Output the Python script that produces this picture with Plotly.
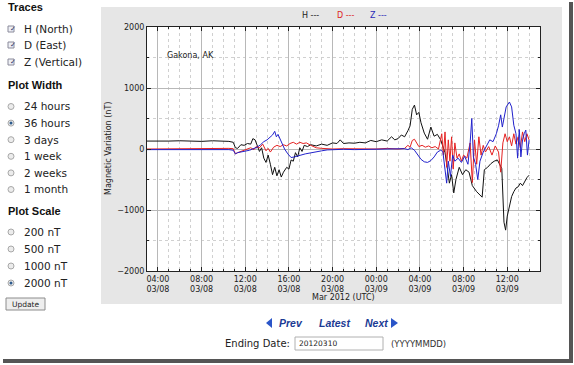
import plotly.graph_objects as go
import pandas as pd

# ---------------- data (hours since 2012-03-08 00:00 UTC, nT) ----------------
h_hours = [3, 4, 5, 6, 7, 8, 9, 10, 10.5, 10.9, 11.1, 11.3, 11.6, 11.9, 12.2, 12.5, 12.7, 12.9,
           13.1, 13.3, 13.5, 13.7, 13.9, 14.1, 14.3, 14.5, 14.7, 14.9, 15.1, 15.3, 15.5, 15.8,
           16.0, 16.2, 16.4, 16.6, 16.8, 17.0, 17.2, 17.4, 17.7, 18.0, 18.5, 19, 19.5, 20, 20.4,
           20.7, 21, 21.5, 22, 22.5, 23, 23.5, 24, 24.5, 25, 25.4, 25.7, 26, 26.3, 26.6, 26.9,
           27.1, 27.3, 27.5, 27.7, 27.9, 28.1, 28.4, 28.7, 29.0, 29.3, 29.6, 29.9, 30.1, 30.3,
           30.5, 30.7, 30.9, 31.1, 31.3, 31.6, 31.9, 32.2, 32.5, 32.8, 33.2, 33.7, 33.9, 34.2,
           34.5, 34.8, 35.1, 35.3, 35.5, 35.7, 35.85, 36.0, 36.2, 36.4, 36.6, 36.8, 37.0, 37.2,
           37.4, 37.6, 37.8, 38.0]
h_vals = [130, 125, 130, 135, 130, 125, 135, 130, 125, 110, 20, 10, 70, 60, 90, 80, 170, 150,
          60, -40, 20, -150, -220, -100, -250, -420, -300, -440, -340, -460, -380, -300,
          -330, -180, -200, -60, -130, 20, -40, 60, 40, 70, 50, 80, 60, 100, 90,
          150, 90, 100, 95, 110, 100, 140, 120, 150, 130, 200, 150, 170, 230, 200, 300,
          380, 650, 720, 560, 600, 430, 260, 160, 360, 210, 240, 150, 60, -60,
          -300, -560, -420, -720, -500, -300, -420, -340, -380, -600, -700, -790, -340, -300,
          -240, -200, -180, -260, -320, -1200, -1330, -1100, -950, -780, -700, -640, -620, -560,
          -600, -520, -470, -430]

d_hours = [3, 5, 7, 9, 10.5, 10.9, 11.1, 11.3, 11.6, 11.9, 12.2, 12.5, 12.8, 13.0, 13.3, 13.6,
           13.9, 14.1, 14.3, 14.6, 14.9, 15.2, 15.5, 15.8, 16.1, 16.4, 16.7, 17.0, 17.3, 17.6,
           18.0, 18.5, 19, 19.5, 20, 21, 22, 23, 24, 25, 26, 26.6, 26.9, 27.1, 27.3, 27.5, 27.7,
           27.9, 28.2, 28.5, 28.8, 29.1, 29.4, 29.7, 30.0, 30.15, 30.3, 30.45, 30.6, 30.75,
           30.9, 31.05, 31.2, 31.4, 31.6, 31.8, 32.0, 32.3, 32.6, 32.8, 33.0, 33.2, 33.4, 33.6,
           33.8, 34.0, 34.3, 34.6, 34.9, 35.2, 35.4, 35.6, 35.8, 36.0, 36.2, 36.4, 36.6, 36.8,
           37.0, 37.2, 37.4, 37.6, 37.8, 38.0]
d_vals = [0, 5, 10, 5, 10, 5, -80, -60, -40, -20, 0, 20, -10, 40, 20, 80,
          -30, 10, -50, 30, 60, 40, 70, 50, 90, 110, 80, 110, 90, 100,
          60, 20, 10, 5, 0, 5, 0, 5, 0, 10, 0, 10, 60, 30, 140, 160, 100,
          40, 60, 30, 50, 20, 40, 0, 250, -100, 280, -300, 150, -200,
          200, -330, 100, -150, -80, -200, -100, -150, 100, -550, 150, -250, 200, -100,
          60, -50, 40, -100, 50, -50, -380, 100, 250, 120, 200, 50, 250, 80,
          200, 20, 280, 120, 250, 150]

z_hours = [3, 5, 7, 9, 10.5, 10.9, 11.1, 11.3, 11.6, 12.0, 12.4, 12.8, 13.1, 13.4, 13.7, 14.0,
           14.3, 14.5, 14.7, 14.85, 15.0, 15.3, 15.6, 15.9, 16.2, 16.5, 16.8, 17.1, 17.5, 18.0,
           18.5, 19, 19.5, 20, 21, 22, 23, 24, 25, 26, 26.6, 26.9, 27.2, 27.5, 27.8, 28.1,
           28.4, 28.7, 29.0, 29.3, 29.6, 29.9, 30.1, 30.3, 30.45, 30.6, 30.8, 31.0, 31.2, 31.5,
           31.8, 32.1, 32.4, 32.6, 32.75, 32.9, 33.1, 33.3, 33.5, 33.8, 34.1, 34.4, 34.7, 35.0,
           35.2, 35.4, 35.55, 35.9, 36.2, 36.4, 36.6, 36.8, 36.95, 37.1, 37.25, 37.4, 37.55,
           37.7, 37.85, 38.0]
z_vals = [-10, -10, -5, -5, -10, -20, -80, -60, -50, -40, -20, 10, 30, 70, 120, 150,
          200, 230, 290, 200, 240, 120, 0, -80, -140, -130, -110, -100, -80, -60,
          -40, -30, -15, -10, -5, -10, -5, 0, -5, 0, 5, -10, 20, -20, -100, -170,
          -210, -220, -190, -130, -50, -20, -40, -300, -560, -200, -450, -100, -200, -150,
          -220, -120, -250, 100, 500, -130, -250, -500, -200, -50, 50, 150, 120, 250,
          380, 560, 360, 690, 770, 690, 390, 250, -150, 320, -130, 150, 250,
          310, -100, 150]

y_tickvals = [-2000, -1000, 0, 1000, 2000]
y_ticktext = ["\u22122000", "\u22121000", "0", "1000", "2000"]
x_tick_hours = [4, 8, 12, 16, 20, 24, 28, 32, 36]
x_ticktext = ["04:00<br>03/08", "08:00<br>03/08", "12:00<br>03/08", "16:00<br>03/08",
              "20:00<br>03/08", "00:00<br>03/09", "04:00<br>03/09", "08:00<br>03/09",
              "12:00<br>03/09"]

trace_labels = ["H (North)", "D (East)", "Z (Vertical)"]
width_labels = ["24 hours", "36 hours", "3 days", "1 week", "2 weeks", "1 month"]
scale_labels = ["200 nT", "500 nT", "1000 nT", "2000 nT"]
width_selected = "36 hours"
scale_selected = "2000 nT"

# ---------------- helpers ----------------
BASE = pd.Timestamp("2012-03-08 00:00")


def t(hours):
    return [BASE + pd.Timedelta(hours=float(v)) for v in hours]


W, H = 574, 365
PL, PR, PT, PB = 147, 540, 27, 271


def xp(px):
    return (px - PL) / (PR - PL)


def yp(py):
    return (PB - py) / (PB - PT)


fig = go.Figure()
fig.add_trace(go.Scatter(x=t(h_hours), y=h_vals, mode="lines",
                         line=dict(color="#111111", width=1), name="H"))
fig.add_trace(go.Scatter(x=t(d_hours), y=d_vals, mode="lines",
                         line=dict(color="#e52222", width=1), name="D"))
fig.add_trace(go.Scatter(x=t(z_hours), y=z_vals, mode="lines",
                         line=dict(color="#2222cc", width=1), name="Z"))

tickfont = dict(family="DejaVu Sans", size=8, color="#222222")
fig.update_layout(
    width=W, height=H,
    margin=dict(l=PL, r=W - PR, t=PT, b=H - PB),
    paper_bgcolor="white", plot_bgcolor="white",
    showlegend=False,
    xaxis=dict(
        range=[BASE + pd.Timedelta(hours=3), BASE + pd.Timedelta(hours=39)],
        tickmode="array", tickvals=t(x_tick_hours), ticktext=x_ticktext,
        tickfont=tickfont, ticks="inside", ticklen=4, tickcolor="#222",
        showgrid=True, gridcolor="#b8b8b8", gridwidth=1,
        showline=True, linecolor="#222", linewidth=1, mirror="ticks",
        minor=dict(dtick=3600000, tick0=BASE, showgrid=True, gridcolor="#d0d0d0",
                   griddash="dot", ticks="inside", ticklen=2, tickcolor="#222"),
        zeroline=False, fixedrange=True,
    ),
    yaxis=dict(
        range=[-2000, 2000],
        tickmode="array", tickvals=y_tickvals, ticktext=y_ticktext,
        tickfont=tickfont, ticks="inside", ticklen=4, tickcolor="#222",
        showgrid=True, gridcolor="#b8b8b8", gridwidth=1,
        showline=True, linecolor="#222", linewidth=1, mirror="ticks",
        minor=dict(dtick=500, tick0=0, showgrid=True, gridcolor="#d0d0d0",
                   griddash="dot", ticks="inside", ticklen=2, tickcolor="#222"),
        zeroline=False, fixedrange=True,
    ),
)

shapes = []
ann = []

# gray chart panel, with the plot area kept white
shapes.append(dict(type="rect", xref="paper", yref="paper", layer="below",
                   x0=xp(101), x1=xp(562), y0=yp(304), y1=yp(7),
                   fillcolor="#e6e6e6", line=dict(width=0)))
shapes.append(dict(type="rect", xref="paper", yref="paper", layer="below",
                   x0=0, x1=1, y0=0, y1=1,
                   fillcolor="white", line=dict(width=0)))
# page shadow borders
shapes.append(dict(type="rect", xref="paper", yref="paper", layer="above",
                   x0=xp(569), x1=xp(573), y0=yp(362), y1=yp(2),
                   fillcolor="#555555", line=dict(width=0)))
shapes.append(dict(type="rect", xref="paper", yref="paper", layer="above",
                   x0=xp(3), x1=xp(573), y0=yp(363), y1=yp(359),
                   fillcolor="#555555", line=dict(width=0)))


def text(px, py, s, size=8, color="#222222", family="DejaVu Sans", xanchor="left",
         angle=0):
    ann.append(dict(xref="paper", yref="paper", x=xp(px), y=yp(py), text=s,
                    showarrow=False, xanchor=xanchor, yanchor="middle",
                    textangle=angle, font=dict(family=family, size=size, color=color)))


# chart texts
text(165, 55, "Gakona, AK", size=8)
text(310, 16, "H ---", size=8, color="#222222", xanchor="center")
text(345, 16, "D ---", size=8, color="#dd2222", xanchor="center")
text(378, 16, "Z ---", size=8, color="#2a2ab8", xanchor="center")
text(108, 149, "Magnetic Variation (nT)", size=8, xanchor="center", angle=-90)
text(343, 297, "Mar 2012 (UTC)", size=8, xanchor="center")

# left control panel
HEAD = dict(size=11, family="Liberation Sans", color="#111111")
text(6, 7, "<b>Traces</b>", **HEAD)
for i, lab in enumerate(trace_labels):
    cy = [29, 45, 62][i]
    shapes.append(dict(type="rect", xref="paper", yref="paper", layer="above",
                       x0=xp(8), x1=xp(14), y0=yp(cy + 3), y1=yp(cy - 3),
                       fillcolor="#eef0f6", line=dict(color="#8a8a9a", width=1)))
    text(8.2, cy, "\u2713", size=7, color="#333366")
    text(22, cy, lab, size=10.5, color="#222222")

text(6, 85, "<b>Plot Width</b>", **HEAD)
for i, lab in enumerate(width_labels):
    cy = 106.5 + i * 16.6
    shapes.append(dict(type="circle", xref="paper", yref="paper", layer="above",
                       x0=xp(8), x1=xp(14), y0=yp(cy + 3), y1=yp(cy - 3),
                       fillcolor="#ececec", line=dict(color="#a8a8a8", width=1)))
    if lab == width_selected:
        shapes.append(dict(type="circle", xref="paper", yref="paper", layer="above",
                           x0=xp(9.5), x1=xp(12.5), y0=yp(cy + 1.5), y1=yp(cy - 1.5),
                           fillcolor="#2c5a8c", line=dict(width=0)))
    text(22, cy, lab, size=10.5, color="#222222")

text(6, 211, "<b>Plot Scale</b>", **HEAD)
for i, lab in enumerate(scale_labels):
    cy = 232 + i * 17
    shapes.append(dict(type="circle", xref="paper", yref="paper", layer="above",
                       x0=xp(8), x1=xp(14), y0=yp(cy + 3), y1=yp(cy - 3),
                       fillcolor="#ececec", line=dict(color="#a8a8a8", width=1)))
    if lab == scale_selected:
        shapes.append(dict(type="circle", xref="paper", yref="paper", layer="above",
                           x0=xp(9.5), x1=xp(12.5), y0=yp(cy + 1.5), y1=yp(cy - 1.5),
                           fillcolor="#2c5a8c", line=dict(width=0)))
    text(22, cy, lab, size=10.5, color="#222222")

# Update button
shapes.append(dict(type="rect", xref="paper", yref="paper", layer="above",
                   x0=xp(6), x1=xp(45), y0=yp(310), y1=yp(298),
                   fillcolor="#eeeeee", line=dict(color="#8c8c8c", width=1)))
text(25.5, 304, "Update", size=7.5, color="#222222", xanchor="center")

# navigation
NAV = dict(size=10.5, family="Liberation Sans", color="#1b3a94")
shapes.append(dict(type="path", xref="paper", yref="paper", layer="above",
                   path=f"M {xp(266)} {yp(323)} L {xp(272)} {yp(318)} L {xp(272)} {yp(328)} Z",
                   fillcolor="#2a55c8", line=dict(width=0)))
text(277, 323, "<b><i>Prev</i></b>", **NAV)
text(317, 323, "<b><i>Latest</i></b>", **NAV)
text(363, 323, "<b><i>Next</i></b>", **NAV)
shapes.append(dict(type="path", xref="paper", yref="paper", layer="above",
                   path=f"M {xp(398)} {yp(323)} L {xp(391)} {yp(318)} L {xp(391)} {yp(328)} Z",
                   fillcolor="#2a55c8", line=dict(width=0)))

text(223, 343.5, "Ending Date:", size=10, color="#222222")
shapes.append(dict(type="rect", xref="paper", yref="paper", layer="above",
                   x0=xp(295), x1=xp(383), y0=yp(350), y1=yp(337),
                   fillcolor="white", line=dict(color="#b0b0b0", width=1)))
text(297, 343.5, "20120310", size=7.5, color="#222222")
text(389, 343.5, "(YYYYMMDD)", size=8.5, color="#333333")

fig.update_layout(shapes=shapes, annotations=ann)
fig.write_html("out.html", config={"displayModeBar": False},
               post_script="document.body.style.margin='0';document.body.style.overflow='hidden';")
